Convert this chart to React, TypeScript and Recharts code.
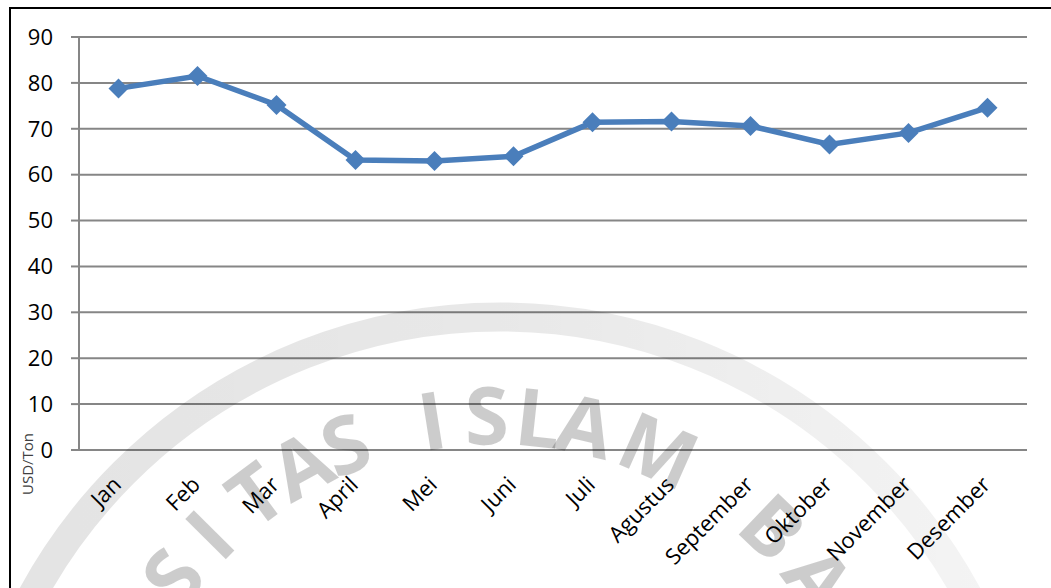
import React from 'react';
import { LineChart, Line, XAxis, YAxis, CartesianGrid } from 'recharts';

const months = ['Jan', 'Feb', 'Mar', 'April', 'Mei', 'Juni', 'Juli', 'Agustus', 'September', 'Oktober', 'November', 'Desember'];
const prices = [78.8, 81.5, 75.2, 63.2, 63.0, 64.0, 71.4, 71.6, 70.6, 66.6, 69.1, 74.6];
const yTicks = [0, 10, 20, 30, 40, 50, 60, 70, 80, 90];
const boundaryTicks = [0, 1, 2, 3, 4, 5, 6, 7, 8, 9, 10, 11, 12];
const labelTicks = months.map((_, i) => i + 0.5);

// visible letters of the scanned university stamp, with their angle on the ring
const stampLetters: [string, number][] = [
  ['S', -53.2], ['I', -45.2], ['T', -36.5], ['A', -28.8], ['S', -21.8],
  ['I', -9], ['S', -1.2], ['L', 6.2], ['A', 13], ['M', 24],
  ['B', 43.7], ['A', 53.5],
];

const data = months.map((month, i) => ({ month, slot: i + 0.5, price: prices[i] }));

const AXIS_GRAY = '#868686';
const LINE_BLUE = '#4A7EBB';
const FONT = "'Open Sans', sans-serif";

const Diamond = (props: any) => {
  const { cx, cy, index } = props;
  if (cx == null || cy == null) return null;
  const r = 10;
  return (
    <path
      key={`d-${index}`}
      d={`M${cx},${cy - r}L${cx + r},${cy}L${cx},${cy + r}L${cx - r},${cy}Z`}
      fill={LINE_BLUE}
    />
  );
};

const MonthTick = (props: any) => {
  const { x, y, payload } = props;
  const label = months[Math.floor(payload.value)];
  const tx = x + 4;
  const ty = y + 28;
  return (
    <text x={tx} y={ty} transform={`rotate(-45 ${tx} ${ty})`} textAnchor="end" fontSize={22} fontFamily={FONT} fill="#000">
      {label}
    </text>
  );
};

const Watermark = () => {
  const cx = 495;
  const cy = 818;
  const R = 405;
  return (
    <svg width={1051} height={588} style={{ position: 'absolute', left: 0, top: 0, pointerEvents: 'none' }}>
      <defs>
        <linearGradient id="ring" x1="0" y1="0" x2="1" y2="0">
          <stop offset="0" stopColor="#000" stopOpacity={0.11} />
          <stop offset="0.5" stopColor="#000" stopOpacity={0.09} />
          <stop offset="1" stopColor="#000" stopOpacity={0.04} />
        </linearGradient>
      </defs>
      <circle cx={500} cy={849} r={532} fill="none" stroke="url(#ring)" strokeWidth={29} />
      {stampLetters.map(([ch, a], i) => {
        const rad = (a * Math.PI) / 180;
        const x = cx + R * Math.sin(rad);
        const y = cy - R * Math.cos(rad);
        return (
          <text
            key={i}
            x={x}
            y={y}
            transform={`rotate(${a} ${x} ${y})`}
            textAnchor="middle"
            dominantBaseline="central"
            fontSize={80}
            fontWeight={700}
            fontFamily={FONT}
            fill="#000"
            fillOpacity={0.2}
          >
            {ch}
          </text>
        );
      })}
      <text x={33} y={464} transform="rotate(-90 33 464)" textAnchor="middle" fontSize={15} fontFamily={FONT} fill="#404040">
        USD/Ton
      </text>
    </svg>
  );
};

export default function App() {
  return (
    <div style={{ position: 'absolute', left: 0, top: 0, width: 1051, height: 588, background: '#fff', overflow: 'hidden' }}>
      <div
        style={{
          position: 'absolute',
          left: 9,
          top: 7,
          right: 0,
          bottom: 0,
          borderLeft: '2px solid #000',
          borderTop: '2px solid #000',
        }}
      />
      <div style={{ position: 'absolute', left: 0, top: 0 }}>
        <LineChart width={1051} height={588} data={data} margin={{ top: 37, right: 24, left: 0, bottom: 0 }}>
          <CartesianGrid vertical={false} stroke={AXIS_GRAY} strokeWidth={2} xAxisId="a" />
          <XAxis
            xAxisId="a"
            type="number"
            dataKey="slot"
            domain={[0, 12]}
            ticks={boundaryTicks}
            interval={0}
            height={8}
            tick={false}
            tickSize={7}
            axisLine={{ stroke: AXIS_GRAY, strokeWidth: 2 }}
            tickLine={{ stroke: AXIS_GRAY, strokeWidth: 2 }}
          />
          <XAxis
            xAxisId="b"
            type="number"
            dataKey="slot"
            domain={[0, 12]}
            ticks={labelTicks}
            interval={0}
            height={130}
            axisLine={false}
            tickLine={false}
            tickSize={0}
            tickMargin={0}
            tick={<MonthTick />}
          />
          <YAxis
            domain={[0, 90]}
            ticks={yTicks}
            width={79}
            interval={0}
            tickSize={8}
            tickMargin={18}
            axisLine={{ stroke: AXIS_GRAY, strokeWidth: 2 }}
            tickLine={{ stroke: AXIS_GRAY, strokeWidth: 2 }}
            tick={{ fill: '#000', fontSize: 22, fontFamily: FONT }}
          />
          <Line
            xAxisId="a"
            type="linear"
            dataKey="price"
            stroke={LINE_BLUE}
            strokeWidth={5.5}
            dot={Diamond}
            activeDot={false}
            isAnimationActive={false}
          />
        </LineChart>
      </div>
      <Watermark />
    </div>
  );
}
